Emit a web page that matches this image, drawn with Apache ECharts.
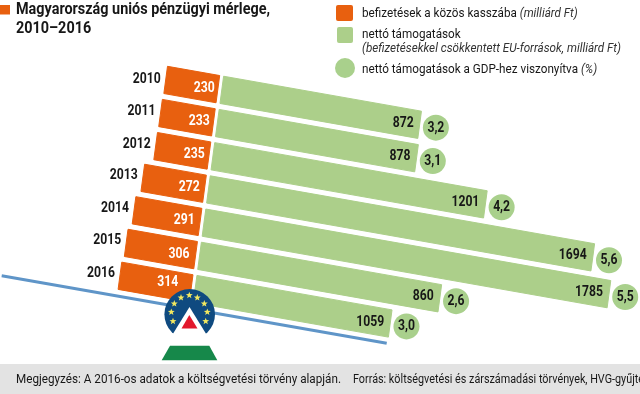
<!DOCTYPE html>
<html>
<head>
<meta charset="utf-8">
<style>html,body{margin:0;padding:0;background:#fff}#main{width:640px;height:394px}</style>
<script src="https://cdn.jsdelivr.net/npm/echarts@6/dist/echarts.min.js"></script>
</head>
<body>
<div id="main"></div>
<script>
var years=['2010','2011','2012','2013','2014','2015','2016'];
var payments=[230,233,235,272,291,306,314];
// printed net support figures
var netLabels=['872','878','1201','1694','1785','860','1059'];
// bar lengths as drawn: in the original the last two rows are swapped against their printed figures
var netLengths=[872,878,1201,1694,1785,1059,860];
var gdpShare=['3,2','3,1','4,2','5,6','5,5','2,6','3,0'];

var ORANGE='#e8600f',GREEN='#accf8a',CIRCLE='#a9d08c',DARK='#171717',BLUE='#5f95c8';
var FONT='Roboto';
var SQUEEZE=0.87;
var COS=0.985,SIN=0.174,SHEAR=-0.134;

/**
 * tilt a point of the flat grid onto the seesaw, pivot is 2010 at zero
 */
function tilt(api,p)
{
	var o=api.coord([0,0]);
	var dx=p[0]-o[0],dy=p[1]-o[1];
	return [o[0]+dx*COS+dy*SHEAR,o[1]+dx*SIN+dy];
}
function bar(api,i,from,to,color)
{
	var c=api.coord([0,i]);
	var h=api.size([0,1])[1]*0.82;
	var a=[c[0]+from,c[1]-h/2],b=[c[0]+to,c[1]-h/2],d=[c[0]+to,c[1]+h/2],e=[c[0]+from,c[1]+h/2];
	return {
		type:'polygon',
		shape:{points:[tilt(api,a),tilt(api,b),tilt(api,d),tilt(api,e)]},
		style:{fill:color,stroke:color,lineWidth:1,lineJoin:'round'}
	};
}
function label(x,y,txt,color,align,size)
{
	return {
		type:'text',x:x,y:y,scaleX:SQUEEZE,scaleY:1,z2:10,
		style:{text:txt,x:0,y:0,fill:color,align:align,verticalAlign:'middle',
			fontFamily:FONT,fontWeight:'bold',fontSize:size||14}
	};
}
function renderPayment(params,api)
{
	var i=api.value(1);
	var c=api.coord([0,i]);
	var w=c[0]-api.coord([api.value(0),i])[0];
	var last=i==years.length-1;
	var mid=tilt(api,[c[0],c[1]]);
	var left=tilt(api,[c[0]-w-2,c[1]]);
	return {type:'group',children:[
		bar(api,i,-w-2,-2,ORANGE),
		label(mid[0]-(last?15:5+i*0.6),mid[1]-(last?6:1.5),String(api.value(0)),'#fff','right'),
		label(left[0]-5,left[1]-(i==0?0:2),years[i],DARK,'right')
	]};
}
function renderNet(params,api)
{
	var i=api.value(1);
	var c=api.coord([0,i]);
	var w=api.coord([api.value(0),i])[0]-c[0];
	var end=tilt(api,[c[0]+w+2,c[1]]);
	var dot=tilt(api,[c[0]+w+18.5,c[1]]);
	return {type:'group',children:[
		bar(api,i,2,w+2,GREEN),
		label(end[0]-6,end[1]-1.5,netLabels[i],DARK,'right'),
		{type:'circle',shape:{cx:dot[0],cy:dot[1],r:13},style:{fill:CIRCLE}},
		label(dot[0],dot[1]+0.5,gdpShare[i],DARK,'center')
	]};
}
function star(cx,cy,r)
{
	var pts=[];
	for(var k=0;k<10;k++)
	{
		var a=-Math.PI/2+k*Math.PI/5;
		var q=k%2==0?r:r*0.42;
		pts.push([cx+Math.cos(a)*q,cy+Math.sin(a)*q]);
	}
	return {type:'polygon',shape:{points:pts},style:{fill:'#f3e85f'},z:30};
}
function flatText(x,y,txt,size,weight,squeeze,extra)
{
	return {
		type:'text',x:x,y:y,scaleX:squeeze,scaleY:1,z:20,
		style:Object.assign({text:txt,x:0,y:0,fill:DARK,verticalAlign:'middle',
			fontFamily:FONT,fontSize:size,fontWeight:weight},extra||{})
	};
}
function italicRich(size)
{
	return {rich:{
		a:{fontFamily:FONT,fontSize:size,fill:DARK},
		i:{fontFamily:FONT,fontSize:size,fontStyle:'italic',fill:'#333'}
	}};
}

var starSpots=[[189.3,295.3],[181,297.7],[197.3,297.7],[174.3,303.7],[204.3,303.7],[171.3,312],[207.3,312],[173,321.3],[205.7,321.3]];
var graphics=[
	{type:'rect',shape:{x:0,y:364,width:640,height:30},style:{fill:'#e3e3e3'},z:1},
	{type:'line',shape:{x1:1.7,y1:275.7,x2:386.7,y2:343.3},style:{stroke:BLUE,lineWidth:3},z:-1},
	{type:'rect',shape:{x:0,y:5,width:10,height:9.5},style:{fill:ORANGE},z:20},
	flatText(16,9.5,'Magyarország uniós pénzügyi mérlege,',16,'bold',0.9),
	flatText(16,28.5,'2010–2016',16,'bold',0.9),
	{type:'rect',shape:{x:336,y:5,width:17,height:16,r:2},style:{fill:ORANGE},z:20},
	{type:'rect',shape:{x:337,y:27,width:16,height:16,r:2},style:{fill:GREEN},z:20},
	{type:'circle',shape:{cx:345,cy:68,r:10},style:{fill:CIRCLE},z:20},
	flatText(362,13.5,'{a|befizetések a közös kasszába} {i|(milliárd Ft)}',13,'normal',0.9,italicRich(13)),
	flatText(362,34.5,'nettó támogatások',13,'normal',0.9),
	flatText(362,49,'{i|(befizetésekkel csökkentett EU-források, milliárd Ft)}',13,'normal',0.9,italicRich(13)),
	flatText(362,70,'{a|nettó támogatások a GDP-hez viszonyítva} {i|(%)}',13,'normal',0.9,italicRich(13)),
	flatText(16,379.5,'Megjegyzés: A 2016-os adatok a költségvetési törvény alapján.',13,'normal',0.9),
	flatText(353,379.5,'Forrás: költségvetési és zárszámadási törvények, HVG-gyűjtés',12,'normal',0.9),
	// logo on the pivot
	{type:'circle',shape:{cx:189.7,cy:314.3,r:25.3},style:{fill:'#0f4a80'},z:25},
	{type:'polygon',shape:{points:[[189.5,307],[210.5,341],[168.5,341]]},style:{fill:'#fff'},z:26},
	{type:'polygon',shape:{points:[[189.3,315],[197.5,328.5],[181.5,328.5]]},style:{fill:'#e2182d'},z:27},
	{type:'polygon',shape:{points:[[170,345.7],[209.3,345.7],[217.3,360.3],[161.7,360.3]]},style:{fill:'#16884a'},z:25}
];
for(var s=0;s<starSpots.length;s++)
{
	graphics.push(star(starSpots[s][0],starSpots[s][1],3.6));
}

var myChart=echarts.init(document.getElementById('main'));
var option={
	animation:false,
	backgroundColor:'#fff',
	grid:{left:127.7,top:72.9,width:506.7,height:232.4},
	xAxis:{type:'value',min:-400,max:1800,show:false},
	yAxis:{type:'category',data:years,inverse:true,show:false},
	series:[
		{
			name:'befizetések',type:'custom',renderItem:renderPayment,silent:true,clip:false,
			encode:{x:0,y:1},
			data:payments.map(function(v,i){return [-v,i];})
		},
		{
			name:'nettó támogatások',type:'custom',renderItem:renderNet,silent:true,clip:false,
			encode:{x:0,y:1},
			data:netLengths.map(function(v,i){return [v,i];})
		}
	],
	graphic:graphics
};
// the payment label prints the positive figure
option.series[0].renderItem=function(params,api)
{
	var i=api.value(1);
	var c=api.coord([0,i]);
	var w=c[0]-api.coord([-payments[i],i])[0];
	var last=i==years.length-1;
	var mid=tilt(api,c);
	var left=tilt(api,[c[0]-w-2,c[1]]);
	return {type:'group',children:[
		bar(api,i,-w-2,-2,ORANGE),
		label(mid[0]-(last?15:5+i*0.6),mid[1]-(last?6:1.5),String(payments[i]),'#fff','right'),
		label(left[0]-5,left[1]-(i==0?0:2),years[i],DARK,'right')
	]};
};
myChart.setOption(option);
</script>
</body>
</html>
